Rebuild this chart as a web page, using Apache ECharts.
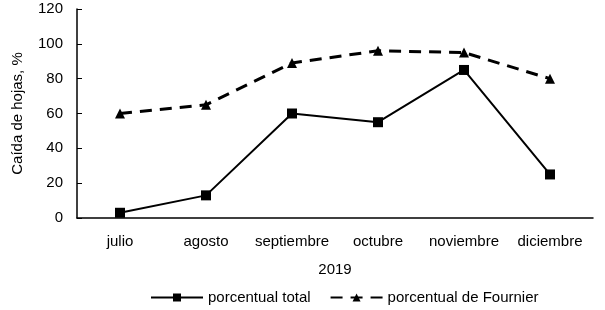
<!DOCTYPE html>
<html><head><meta charset="utf-8">
<script src="https://cdn.jsdelivr.net/npm/echarts@6/dist/echarts.min.js"></script>
<style>html,body{margin:0;padding:0;background:#fff}#c{width:605px;height:310px}</style>
</head><body><div id="c"></div>
<script>
var categories = ['julio','agosto','septiembre','octubre','noviembre','diciembre'];
var total = [3, 13, 60, 55, 85, 25];
var fournier = [60, 65, 89, 96, 95, 80];
var yTicks = [0, 20, 40, 60, 80, 100, 120];
var xTitle = '2019';
var yTitle = 'Caída de hojas, %';
var names = ['porcentual total', 'porcentual de Fournier'];

var font = 'Liberation Sans, Arial, sans-serif';
var chart = echarts.init(document.getElementById('c'));
chart.setOption({
  animation: false,
  grid: {left: 77, right: 12, top: 9, bottom: 92},
  legend: {
    top: 285, left: 145, itemWidth: 52, itemHeight: 10, itemGap: 19,
    textStyle: {fontFamily: font, fontSize: 15, color: '#000'},
    data: names
  },
  xAxis: {
    type: 'category', data: categories, boundaryGap: true,
    name: xTitle, nameLocation: 'middle', nameGap: 44,
    nameTextStyle: {fontFamily: font, fontSize: 15, color: '#000'},
    axisLine: {lineStyle: {color: '#000', width: 1.5}},
    axisTick: {inside: true, length: 5, lineStyle: {color: '#000'}},
    axisLabel: {fontFamily: font, fontSize: 15, color: '#000', margin: 16, interval: 0}
  },
  yAxis: {
    type: 'value', min: yTicks[0], max: yTicks[yTicks.length-1], interval: 20,
    name: yTitle, nameLocation: 'middle', nameGap: 52,
    nameTextStyle: {fontFamily: font, fontSize: 15, color: '#000'},
    axisLine: {show: true, lineStyle: {color: '#000', width: 1.5}},
    axisTick: {show: true, inside: true, length: 5, lineStyle: {color: '#000'}},
    splitLine: {show: false},
    axisLabel: {fontFamily: font, fontSize: 15, color: '#000', margin: 14}
  },
  series: [
    {name: names[0], type: 'line', data: total, symbol: 'rect', symbolSize: 10,
     lineStyle: {color: '#000', width: 2}, itemStyle: {color: '#000'}},
    {name: names[1], type: 'line', data: fournier, symbol: 'triangle', symbolSize: 10,
     lineStyle: {color: '#000', width: 3, type: [12, 8]}, itemStyle: {color: '#000'}}
  ]
});
</script></body></html>
